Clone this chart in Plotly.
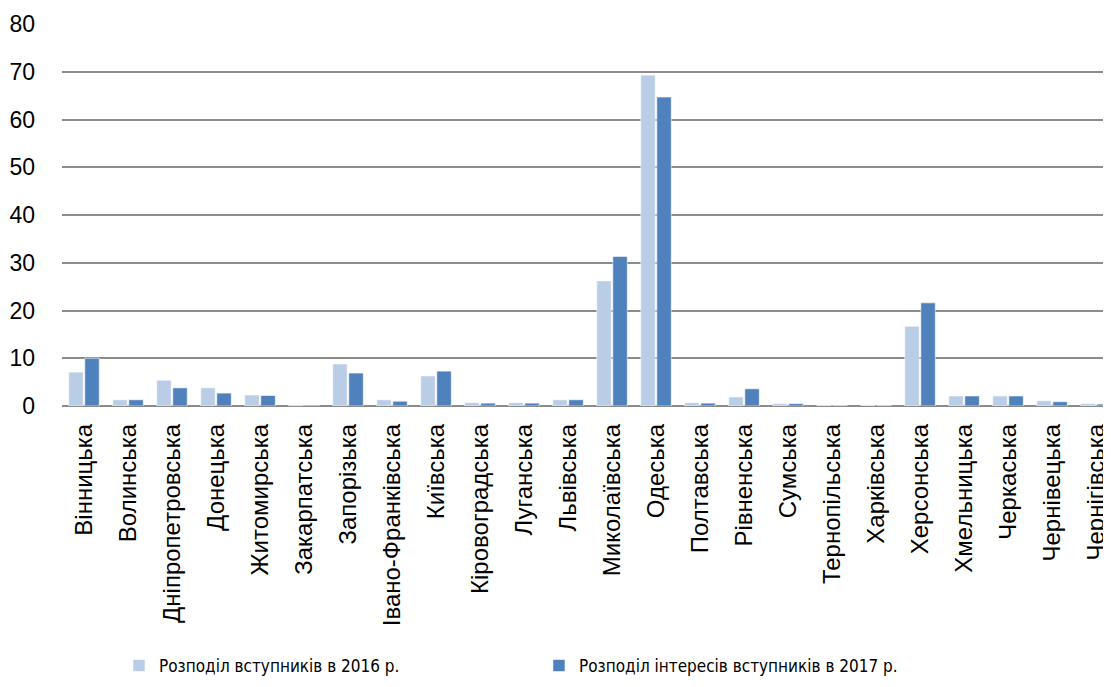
import plotly.graph_objects as go

categories = ["Вінницька", "Волинська", "Дніпропетровська", "Донецька", "Житомирська",
              "Закарпатська", "Запорізька", "Івано-Франківська", "Київська", "Кіровоградська",
              "Луганська", "Львівська", "Миколаївська", "Одеська", "Полтавська", "Рівненська",
              "Сумська", "Тернопільська", "Харківська", "Херсонська", "Хмельницька",
              "Черкаська", "Чернівецька", "Чернігівська"]

values_2016 = [7.1, 1.3, 5.4, 3.8, 2.3, 0.2, 8.8, 1.3, 6.3, 0.7, 0.7, 1.3, 26.2, 69.3,
               0.7, 1.9, 0.5, 0.1, 0.1, 16.7, 2.1, 2.1, 1.1, 0.5]
values_2017 = [10.0, 1.3, 3.8, 2.7, 2.2, 0.2, 6.9, 1.0, 7.3, 0.6, 0.6, 1.3, 31.3, 64.7,
               0.6, 3.6, 0.5, 0.1, 0.1, 21.6, 2.1, 2.1, 0.9, 0.4]

name_2016 = "Розподіл вступників в 2016 р."
name_2017 = "Розподіл інтересів вступників в 2017 р."

y_ticks = [0, 10, 20, 30, 40, 50, 60, 70, 80]

fig = go.Figure()
fig.add_trace(go.Bar(x=categories, y=values_2016, name=name_2016,
                     marker=dict(color="#b9cde6", line=dict(color="rgba(255,255,255,0.7)", width=0.8))))
fig.add_trace(go.Bar(x=categories, y=values_2017, name=name_2017,
                     marker=dict(color="#4f81bd", line=dict(color="rgba(255,255,255,0.7)", width=0.8))))

fig.update_layout(
    width=1103, height=679,
    margin=dict(l=54, r=0, t=16, b=281, autoexpand=False),
    plot_bgcolor="white", paper_bgcolor="white",
    barmode="group", bargap=0.27, bargroupgap=0.1,
    font=dict(family="Liberation Sans, Arial, sans-serif", color="#000000"),
    legend=dict(orientation="h", xref="container", yref="container",
                x=0.4814, xanchor="center", y=0.031, yanchor="middle",
                font=dict(family="DejaVu Sans Condensed, Liberation Sans Narrow, Liberation Sans, sans-serif", size=17),
                entrywidth=375, entrywidthmode="pixels", itemclick=False),
)
fig.update_xaxes(type="category", range=[-0.5, 23.34], tickangle=-90,
                 tickfont=dict(size=24), showgrid=False, ticks="",
                 ticklabelstandoff=12, showline=False, zeroline=False, automargin=False)
fig.update_yaxes(range=[0, 80], tickvals=y_ticks, tickfont=dict(size=23),
                 showgrid=True, gridcolor="#8c8c8c", gridwidth=1.6,
                 zeroline=True, zerolinecolor="#8c8c8c", zerolinewidth=1.6,
                 ticks="", ticklabelstandoff=26, showline=False, automargin=False)

fig.write_html("out.html")
